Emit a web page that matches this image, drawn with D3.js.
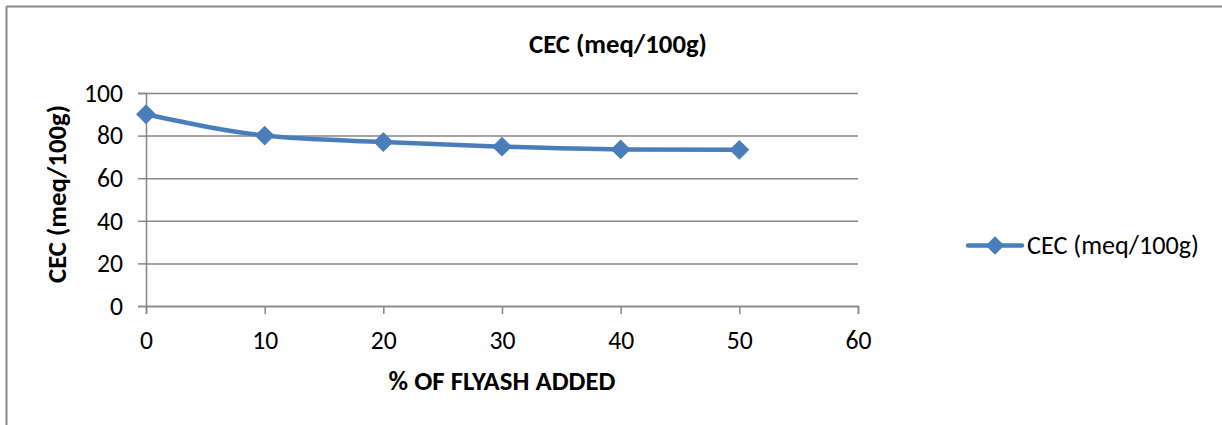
<!DOCTYPE html>
<html>
<head>
<meta charset="utf-8">
<script src="https://cdn.jsdelivr.net/npm/d3@7"></script>
<style>
  body { margin: 0; background: #fff; }
  text { font-family: Calibri, Carlito, "Open Sans", "Liberation Sans", sans-serif; fill: #000; }
</style>
</head>
<body>
<svg id="chart" width="1222" height="425"></svg>
<script>
// data
const flyash = [0, 10, 20, 30, 40, 50];
const cec = [90, 80, 77, 74.8, 73.5, 73.3];
const xTicks = [0, 10, 20, 30, 40, 50, 60];
const yTicks = [0, 20, 40, 60, 80, 100];
const seriesName = "CEC (meq/100g)";
const xTitle = "% OF FLYASH ADDED";

const svg = d3.select("#chart");
const color = "#4a7ebb";
const grid = "#868686";

// font size that makes a string come out about w px wide
function sizeFor(str, w, weight) {
  const t = svg.append("text").style("font-size", "100px").style("font-weight", weight).text(str);
  const len = t.node().getComputedTextLength();
  t.remove();
  return 100 * w / len;
}
const tickSize = sizeFor("100", 39, "normal");
const titleSize = sizeFor(seriesName, 178, "bold");
const xTitleSize = sizeFor(xTitle, 227, "bold");
const legendSize = sizeFor(seriesName, 172, "normal");

// outer frame (top + left visible)
svg.append("line").attr("x1", 6.5).attr("x2", 1222).attr("y1", 6.5).attr("y2", 6.5)
  .attr("stroke", "#888").attr("stroke-width", 2);
svg.append("line").attr("x1", 6.5).attr("x2", 6.5).attr("y1", 6.5).attr("y2", 425)
  .attr("stroke", "#888").attr("stroke-width", 2);

const x = d3.scaleLinear().domain([0, 60]).range([146, 858]);
const y = d3.scaleLinear().domain([0, 100]).range([306, 93]);

// horizontal gridlines
const yGrid = d3.axisLeft(y).tickValues(yTicks).tickSize(-(858 - 146)).tickFormat("");
svg.append("g").attr("transform", "translate(146,0)").call(yGrid)
  .call(g => g.select(".domain").remove())
  .call(g => g.selectAll("line").attr("stroke", grid).attr("stroke-width", 1.5));

// y axis
const yAxis = d3.axisLeft(y).tickValues(yTicks).tickSize(8).tickPadding(15);
svg.append("g").attr("transform", "translate(146,0)").call(yAxis)
  .call(g => g.select(".domain").attr("stroke", grid).attr("stroke-width", 1.5))
  .call(g => g.selectAll("line").attr("stroke", grid).attr("stroke-width", 1.5))
  .call(g => g.selectAll("text").style("font-size", tickSize + "px").attr("fill", "#000"));

// x axis
const xAxis = d3.axisBottom(x).tickValues(xTicks).tickSize(8).tickPadding(17);
svg.append("g").attr("transform", "translate(0,306)").call(xAxis)
  .call(g => g.select(".domain").attr("stroke", grid).attr("stroke-width", 1.5))
  .call(g => g.selectAll("line").attr("stroke", grid).attr("stroke-width", 1.5))
  .call(g => g.selectAll("text").style("font-size", tickSize + "px").attr("fill", "#000"));

// series
const pts = flyash.map((v, i) => ({x: v, y: cec[i]}));
const line = d3.line().x(d => x(d.x)).y(d => y(d.y)).curve(d3.curveMonotoneX);
svg.append("path").datum(pts).attr("d", line)
  .attr("fill", "none").attr("stroke", color).attr("stroke-width", 4.5)
  .attr("stroke-linejoin", "round").attr("stroke-linecap", "round");

const diamond = d3.symbol().type(d3.symbolSquare).size(170);
svg.selectAll("path.marker").data(pts).enter().append("path")
  .attr("class", "marker")
  .attr("d", diamond)
  .attr("transform", d => `translate(${x(d.x)},${y(d.y)}) rotate(45)`)
  .attr("fill", color).attr("stroke", color).attr("stroke-width", 1);

// titles
svg.append("text").attr("x", 618).attr("y", 53).attr("text-anchor", "middle")
  .style("font-size", titleSize + "px").style("font-weight", "bold").text(seriesName);
svg.append("text").attr("x", 502).attr("y", 390).attr("text-anchor", "middle")
  .style("font-size", xTitleSize + "px").style("font-weight", "bold").text(xTitle);
svg.append("text").attr("transform", "translate(66,194) rotate(-90)").attr("text-anchor", "middle")
  .style("font-size", titleSize + "px").style("font-weight", "bold").text(seriesName);

// legend
const lg = svg.append("g").attr("transform", "translate(968,245.5)");
lg.append("line").attr("x1", 0).attr("x2", 54).attr("y1", 0).attr("y2", 0)
  .attr("stroke", color).attr("stroke-width", 4.5).attr("stroke-linecap", "round");
lg.append("path").attr("d", diamond).attr("transform", "translate(27,0) rotate(45)")
  .attr("fill", color);
lg.append("text").attr("x", 59).attr("y", 0).attr("dy", "0.34em")
  .style("font-size", legendSize + "px").text(seriesName);
</script>
</body>
</html>
